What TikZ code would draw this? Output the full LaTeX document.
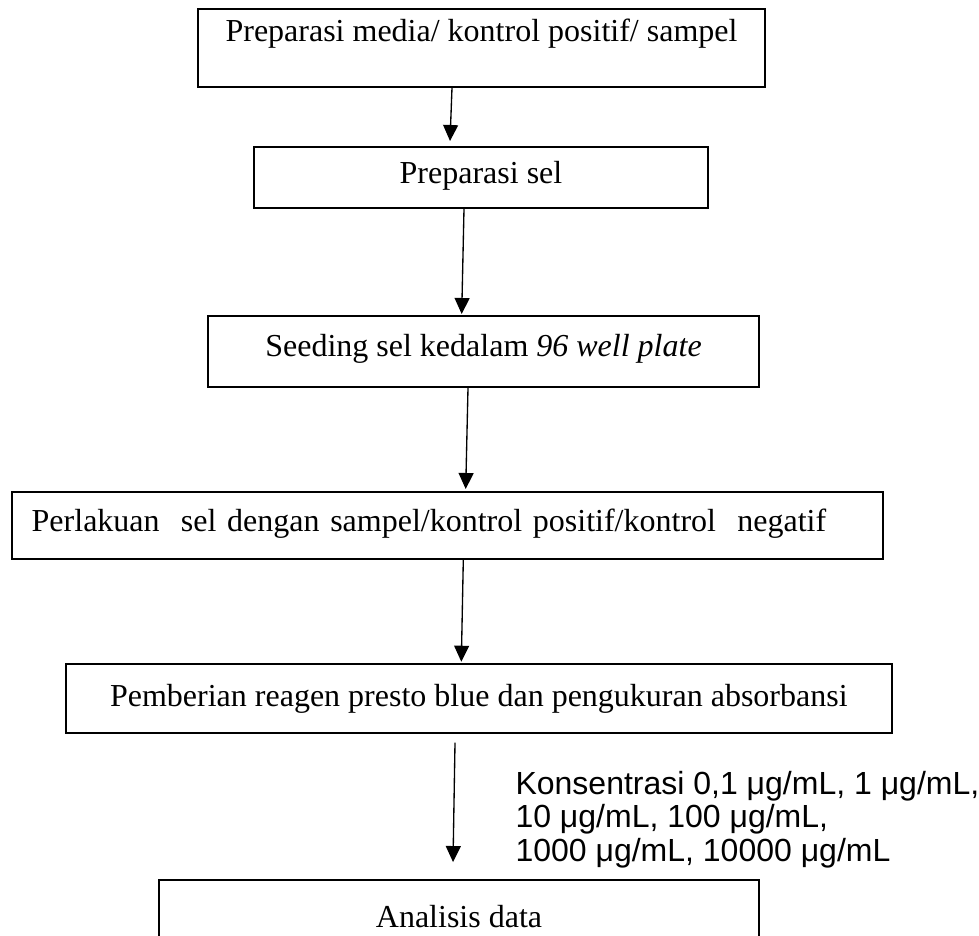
\documentclass[tikz,border=0pt]{standalone}
\usepackage{fontspec}
\setmainfont{Liberation Serif}
\newfontfamily\arialfont{Liberation Sans}
\usetikzlibrary{arrows.meta,calc}
\newlength\px
\setlength\px{0.375pt}
\begin{document}
\begin{tikzpicture}[x=\px,y=-\px,
    stepbox/.style={draw,line width=0.75pt,inner xsep=0pt,inner ysep=0pt,
        font=\fontsize{12}{14}\selectfont},
    flow/.style={line width=0.5pt,-{Triangle[length=6pt,width=5.6pt]}}]
    \useasboundingbox (0,0) rectangle (979,935);
    \node[stepbox,minimum width=567\px,text height=32.7\px,text depth=44.8\px] (b1) at (481.5,47.75) {Preparasi media/ kontrol positif/ sampel};
    \node[stepbox,minimum width=454\px,text height=36\px,text depth=24.5\px] (b2) at (481,177.25) {Preparasi sel};
    \node[stepbox,minimum width=551\px,text height=40.7\px,text depth=30\px] (b3) at (483.5,351.35) {Seeding sel kedalam \textit{96 well plate}};
    \node[stepbox,inner xsep=20\px,text width=831\px,align=left,text height=39.7\px,text depth=27\px] (b4) at (447.2,525.35) {Perlakuan\ \ sel dengan sampel/kontrol positif/kontrol\ \ negatif};
    \node[stepbox,minimum width=826.3\px,text height=42\px,text depth=27\px] (b5) at (478.85,698.5) {Pemberian reagen presto blue dan pengukuran absorbansi};
    \node[stepbox,minimum width=600\px,text height=47\px,text depth=48\px] (b6) at (459,927.5) {Analisis data};
    \node[anchor=base west,align=left,inner sep=0pt,font=\arialfont\fontsize{12}{12.4}\selectfont] (conc) at (515,861) {Konsentrasi 0,1 μg/mL, 1 μg/mL,\\10 μg/mL, 100 μg/mL,\\1000 μg/mL, 10000 μg/mL};
    % arrows between the steps
    \draw[flow] ($(b1.south)+(-29.5,0)$) -- ($(b2.north)+(-31,-5)$);
    \draw[flow] ($(b2.south)+(-17,0)$) -- ($(b3.north)+(-21.8,-1)$);
    \draw[flow] ($(b3.south)+(-15.5,0)$) -- ($(b4.north)+(18.5,-2)$);
    \draw[flow] ($(b4.south)+(16.1,0)$) -- ($(b5.north)+(-17.55,-1.3)$);
    \draw[flow] ($(b5.south)+(-23.85,8.7)$) -- ($(b6.north)+(-6,-17)$);
\end{tikzpicture}
\end{document}
